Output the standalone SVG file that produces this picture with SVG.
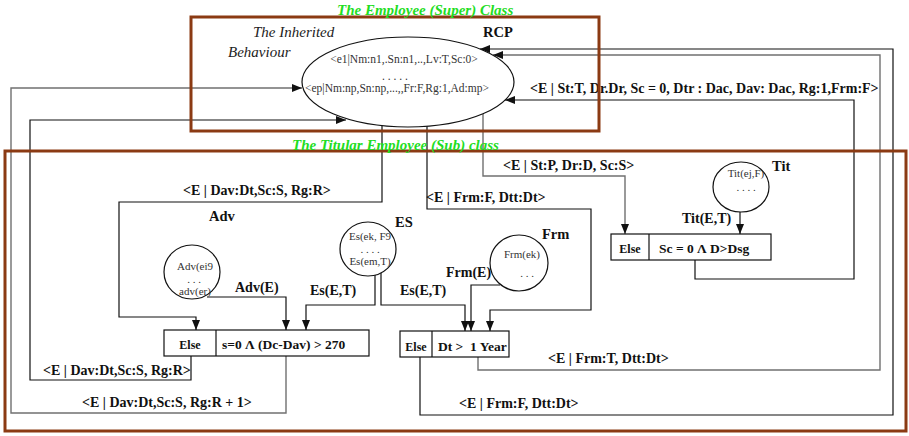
<svg xmlns="http://www.w3.org/2000/svg" width="909" height="436" viewBox="0 0 909 436">
<style>
text{font-family:"Liberation Serif","Times New Roman",serif;}
.cls{fill:none;stroke:#8b3a13;stroke-width:3;}
.ttl{font-size:15px;font-weight:bold;font-style:italic;fill:#22dd22;}
.it{font-size:15px;font-style:italic;fill:#222;}
.nm{font-size:14.5px;font-weight:bold;fill:#111;}
.lbl{font-size:14px;font-weight:bold;fill:#111;}
.bx{font-size:13.5px;font-weight:bold;fill:#111;white-space:pre;}
.el{font-size:12px;font-weight:bold;fill:#111;}
.sm{font-size:11px;fill:#333;}
.sm2{font-size:11.5px;fill:#333;}
.shape{fill:#fff;stroke:#111;stroke-width:1.2;}
.c{fill:none;stroke:#111;stroke-width:1.2;}
.g{fill:none;stroke:#707070;stroke-width:1.4;}
</style>
<defs>
<marker id="ah" markerUnits="userSpaceOnUse" markerWidth="10" markerHeight="8" refX="10" refY="4" orient="auto">
<path d="M0,0 L10,4 L0,8 z" fill="#111"/>
</marker>
</defs>

<g id="connectors">
<polyline class="g" points="286,356 286,413 11,413 11,88 302,88" marker-end="url(#ah)"/>
<polyline class="c" points="191,356 191,380 30,380 30,120 346,120" marker-end="url(#ah)"/>
<polyline class="c" points="382,126 382,202 119,202 119,317 196,317 196,330" marker-end="url(#ah)"/>
<polyline class="c" points="427,126 427,209 591,209 591,310 490,310 490,331" marker-end="url(#ah)"/>
<polyline class="g" points="483,114 483,176 625,176 625,234" marker-end="url(#ah)"/>
<polyline class="c" points="740,212 740,234" marker-end="url(#ah)"/>
<polyline class="c" points="695,260 695,279 854,279 854,100 505,100" marker-end="url(#ah)"/>
<polyline class="g" points="478,357 478,370 880,370 880,55 493,55" marker-end="url(#ah)"/>
<polyline class="c" points="420,357 420,415 893,415 893,49 480,49" marker-end="url(#ah)"/>
<polyline class="c" points="207,297 286,297 286,330" marker-end="url(#ah)"/>
<polyline class="c" points="375,275 375,305 306,305 306,330" marker-end="url(#ah)"/>
<polyline class="c" points="381,273 381,305 465,305 465,331" marker-end="url(#ah)"/>
<polyline class="c" points="500,285 471,285 471,331" marker-end="url(#ah)"/>

<text class="lbl" x="183" y="195">&lt;E | Dav:Dt,Sc:S, Rg:R&gt;</text>
<text class="lbl" x="426" y="202">&lt;E | Frm:F, Dtt:Dt&gt;</text>
<text class="lbl" x="503" y="170">&lt;E | St:P, Dr:D, Sc:S&gt;</text>
<text class="lbl" x="530" y="93">&lt;E | St:T, Dr.Dr, Sc = 0, Dtr : Dac, Dav: Dac, Rg:1,Frm:F&gt;</text>
<text class="lbl" x="682" y="223">Tit(E,T)</text>
<text class="lbl" x="235" y="292">Adv(E)</text>
<text class="lbl" x="310" y="295">Es(E,T)</text>
<text class="lbl" x="400" y="295">Es(E,T)</text>
<text class="lbl" x="446" y="277">Frm(E)</text>
<text class="lbl" x="43" y="375">&lt;E | Dav:Dt,Sc:S, Rg:R&gt;</text>
<text class="lbl" x="82" y="407">&lt;E | Dav:Dt,Sc:S, Rg:R + 1&gt;</text>
<text class="lbl" x="548" y="363">&lt;E | Frm:T, Dtt:Dt&gt;</text>
<text class="lbl" x="459" y="408">&lt;E | Frm:F, Dtt:Dt&gt;</text>
</g>

<g id="super-class">
<rect class="cls" x="191" y="17" width="408" height="114"/>
<text class="ttl" x="337" y="15">The Employee (Super) Class</text>
<text class="it" x="253" y="37">The Inherited</text>
<text class="it" x="228" y="57">Behaviour</text>
</g>

<g id="sub-class">
<rect class="cls" x="5" y="151" width="901" height="280"/>
<text class="ttl" x="292" y="150">The Titular Employee (Sub) class</text>
</g>

<g id="rcp">
<ellipse class="shape" cx="408" cy="82" rx="106" ry="45"/>
<text class="nm" x="483" y="37">RCP</text>
<text class="sm2" x="404" y="63" text-anchor="middle">&lt;e1|Nm:n1,.Sn:n1,..,Lv:T,Sc:0&gt;</text>
<text class="sm2" x="395" y="80" text-anchor="middle">. . . . .</text>
<text class="sm2" x="397" y="92" text-anchor="middle">&lt;ep|Nm:np,Sn:np,...,,Fr:F,Rg:1,Ad:mp&gt;</text>
</g>

<g id="adv">
<ellipse class="shape" cx="192" cy="272" rx="28" ry="27"/>
<text class="nm" x="209" y="221">Adv</text>
<text class="sm" x="195" y="270" text-anchor="middle">Adv(ei9</text>
<text class="sm" x="194" y="283" text-anchor="middle">. . .</text>
<text class="sm" x="195" y="295" text-anchor="middle">adv(er)</text>
</g>

<g id="es">
<ellipse class="shape" cx="368" cy="249" rx="28" ry="27"/>
<text class="nm" x="395" y="227">ES</text>
<text class="sm" x="370" y="240" text-anchor="middle">Es(ek, F9</text>
<text class="sm" x="370" y="253" text-anchor="middle">. . . .</text>
<text class="sm" x="370" y="265" text-anchor="middle">Es(em,T)</text>
</g>

<g id="frm">
<ellipse class="shape" cx="519" cy="263" rx="29" ry="28"/>
<text class="nm" x="542" y="239">Frm</text>
<text class="sm" x="522" y="258" text-anchor="middle">Frm(ek)</text>
<text class="sm" x="527" y="277" text-anchor="middle">. . .</text>
</g>

<g id="tit">
<ellipse class="shape" cx="741" cy="187" rx="28" ry="25"/>
<text class="nm" x="772" y="171">Tit</text>
<text class="sm" x="746" y="177" text-anchor="middle">Tit(ej,F)</text>
<text class="sm" x="746" y="191" text-anchor="middle">. . . .</text>
</g>

<g id="adv-test">
<rect class="shape" x="164" y="330" width="205" height="26"/>
<line class="c" x1="216" y1="330" x2="216" y2="356"/>
<text class="el" x="190" y="349" text-anchor="middle">Else</text>
<text class="bx" x="222" y="349">s=0 Λ (Dc-Dav) &gt; 270</text>
</g>

<g id="frm-test">
<rect class="shape" x="400" y="331" width="109" height="26"/>
<line class="c" x1="432" y1="331" x2="432" y2="357"/>
<text class="el" x="416" y="351" text-anchor="middle">Else</text>
<text class="bx" x="438" y="351" xml:space="preserve">Dt &gt;  1 Year</text>
</g>

<g id="tit-test">
<rect class="shape" x="611" y="234" width="160" height="26"/>
<line class="c" x1="649" y1="234" x2="649" y2="260"/>
<text class="el" x="630" y="253" text-anchor="middle">Else</text>
<text class="bx" x="659" y="253">Sc = 0 Λ D&gt;Dsg</text>
</g>
</svg>
